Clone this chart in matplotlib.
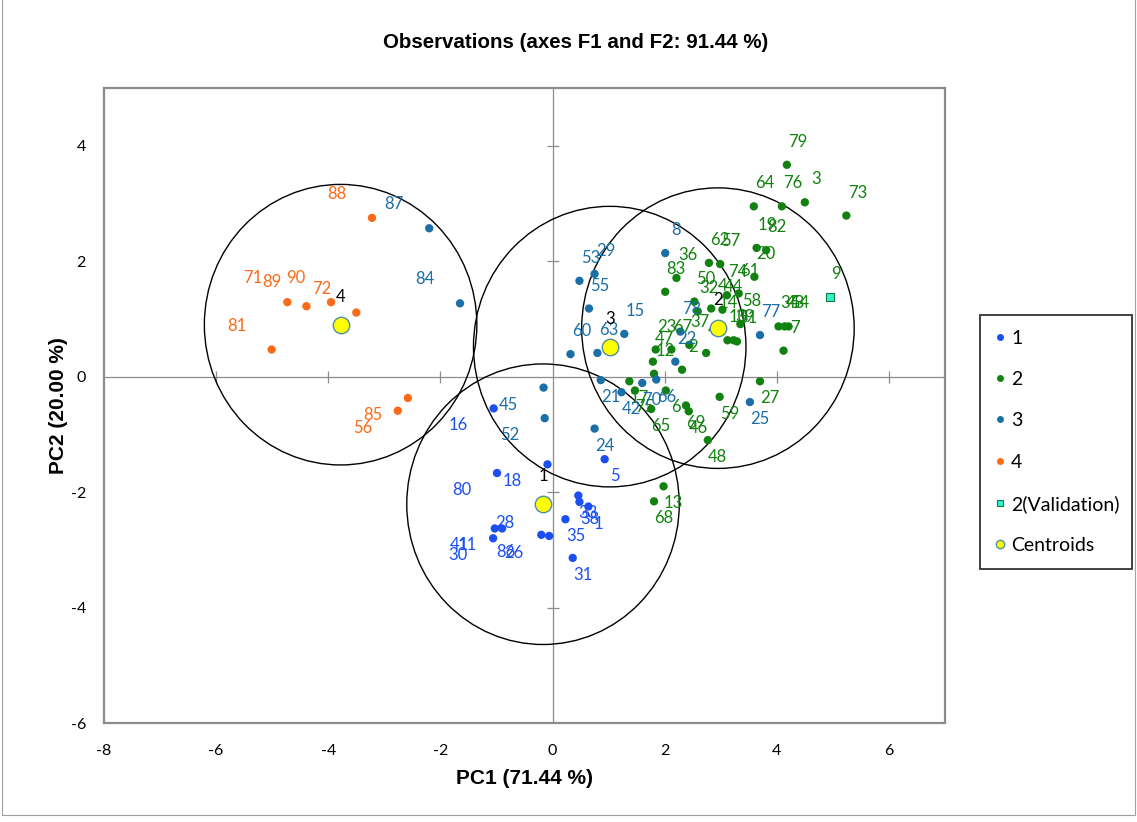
import matplotlib
matplotlib.use("Agg")
import numpy as np
import matplotlib.pyplot as plt
from matplotlib.patches import Circle, Rectangle
from matplotlib.lines import Line2D

plt.rcParams['font.family'] = ['Lato', 'DejaVu Sans']
plt.rcParams['axes.unicode_minus'] = False

# class 1 observations
c1_lab = [16, 80, 18, 5, 33, 38, 1, 35, 31, 86, 26, 28, 41, 11, 30]
c1_x = [-1.05, -0.99, -0.09, 0.93, 0.46, 0.48, 0.64, 0.23, 0.36, -0.20, -0.06, -0.23, -1.03, -0.90, -1.06]
c1_y = [-0.55, -1.67, -1.52, -1.43, -2.06, -2.17, -2.25, -2.47, -3.14, -2.74, -2.76, -2.24, -2.63, -2.63, -2.80]
c1_pos = ['ll', 'll', 'll', 'lr', 'lr', 'lr', 'lr', 'lr', 'lr', 'll', 'll', 'll', 'll', 'll', 'll']

# class 2 observations
c2_lab = [79, 64, 76, 3, 73, 19, 82, 20, 62, 57, 36, 83, 74, 61, 50, 32, 4, 44, 58, 34, 43, 54, 7,
          10, 39, 51, 14, 37, 49, 23, 67, 47, 12, 2, 17, 75, 6, 65, 69, 46, 59, 48, 27, 13, 68]
c2_x = [4.18, 3.59, 4.09, 4.50, 5.24, 3.64, 3.81, 3.60, 2.79, 2.99, 2.21, 2.01, 3.11, 3.32, 2.53, 2.59,
        2.83, 3.03, 3.35, 4.03, 4.14, 4.21, 4.12, 3.12, 3.23, 3.29, 2.94, 2.44, 2.74, 1.84, 2.12, 1.79,
        1.81, 2.31, 1.37, 1.47, 2.02, 1.76, 2.38, 2.43, 2.98, 2.77, 3.70, 1.98, 1.81]
c2_y = [3.67, 2.95, 2.95, 3.02, 2.79, 2.23, 2.19, 1.73, 1.97, 1.95, 1.71, 1.47, 1.41, 1.44, 1.30, 1.13,
        1.18, 1.16, 0.91, 0.87, 0.87, 0.87, 0.45, 0.63, 0.63, 0.61, 0.87, 0.55, 0.41, 0.47, 0.47, 0.26,
        0.05, 0.12, -0.08, -0.24, -0.24, -0.56, -0.50, -0.60, -0.35, -1.10, -0.08, -1.90, -2.16]
c2_pos = ['ur'] * 34 + ['lr'] * 11

# class 3 observations
c3_lab = [87, 84, 45, 52, 24, 8, 29, 53, 55, 60, 63, 15, 22, 78, 21, 42, 70, 66, 77, 25]
c3_x = [-2.20, -1.65, -0.16, -0.14, 0.75, 2.01, 0.75, 0.48, 0.65, 0.32, 0.80, 1.28, 2.19, 2.28,
        0.86, 1.23, 1.60, 1.85, 3.70, 3.52]
c3_y = [2.57, 1.27, -0.19, -0.72, -0.90, 2.14, 1.78, 1.66, 1.18, 0.39, 0.41, 0.74, 0.26, 0.78,
        -0.06, -0.27, -0.11, -0.05, 0.72, -0.44]
c3_pos = ['ul', 'ul', 'll', 'll', 'lr', 'ur', 'ur', 'ur', 'ur', 'ur', 'ur', 'ur', 'ur', 'ur',
          'lr', 'lr', 'lr', 'lr', 'ur', 'lr']

# class 4 observations
c4_lab = [88, 71, 89, 90, 72, 81, 85, 56]
c4_x = [-3.22, -4.73, -4.39, -3.95, -3.50, -5.01, -2.58, -2.76]
c4_y = [2.75, 1.29, 1.22, 1.29, 1.11, 0.47, -0.37, -0.59]
c4_pos = ['ul', 'ul', 'ul', 'ul', 'ul', 'ul', 'll', 'll']

# validation sample
val_lab = [9]
val_x = [4.94]
val_y = [1.38]

# class centroids
cen_lab = [1, 2, 3, 4]
cen_x = [-0.17, 2.95, 1.02, -3.78]
cen_y = [-2.21, 0.84, 0.52, 0.90]
radius = 2.43

offsets = {'ur': (11, 23), 'lr': (10, -17), 'll': (-35, -17), 'ul': (-35, 24)}

blue = '#1b4ff2'
green = '#11820f'
teal = '#1a6fa6'
orange = '#fb6a17'
grey = '#8c8c8c'

fig = plt.figure(figsize=(11.37, 8.22), dpi=100)
ax = fig.add_axes([104 / 1137, 1 - 723 / 822, 841 / 1137, 635 / 822])

ax.axhline(0, color=grey, lw=0.9, zorder=1)
ax.axvline(0, color=grey, lw=0.9, zorder=1)
xt = np.array([-6, -4, -2, 2, 4, 6])
yt = np.array([-4, -2, 2, 4])
ax.plot(xt, np.zeros_like(xt), ls='none', marker='|', ms=8, mew=0.9, color=grey, zorder=1)
ax.plot(np.zeros_like(yt), yt, ls='none', marker='_', ms=8, mew=0.9, color=grey, zorder=1)

for cx, cy in zip(cen_x, cen_y):
    ax.add_patch(Circle((cx, cy), radius, fill=False, ec='black', lw=1.0, zorder=2))

groups = [
    (c1_lab, c1_x, c1_y, c1_pos, blue),
    (c2_lab, c2_x, c2_y, c2_pos, green),
    (c3_lab, c3_x, c3_y, c3_pos, teal),
    (c4_lab, c4_x, c4_y, c4_pos, orange),
]
for lab, xs, ys, pos, col in groups:
    ax.scatter(xs, ys, s=36, color=col, edgecolors='none', zorder=3)
    for l, x, y, p in zip(lab, xs, ys, pos):
        ax.annotate(str(l), (x, y), xytext=offsets[p], textcoords='offset pixels',
                    ha='center', va='center', color=col, fontsize=12, zorder=4)

ax.scatter(val_x, val_y, s=40, marker='s', color='#2ef5d0', edgecolors='#127a3a', linewidths=0.8, zorder=3)
for l, x, y in zip(val_lab, val_x, val_y):
    ax.annotate(str(l), (x, y), xytext=(6, 23), textcoords='offset pixels',
                ha='center', va='center', color=green, fontsize=12, zorder=4)

ax.scatter(cen_x, cen_y, s=140, color='#ffff00', edgecolors='#4f8fa6', linewidths=1.0, zorder=5)
for l, x, y in zip(cen_lab, cen_x, cen_y):
    ax.annotate(str(l), (x, y), xytext=(0, 28), textcoords='offset pixels',
                ha='center', va='center', color='black', fontsize=12, zorder=4)

ax.set_xlim(-8, 7)
ax.set_ylim(-6, 5)
ax.set_xticks(np.arange(-8, 7, 2))
ax.set_yticks(np.arange(-6, 5, 2))
ax.tick_params(length=0, labelsize=11.5)
ax.tick_params(axis='x', pad=15)
ax.tick_params(axis='y', pad=13)
for s in ax.spines.values():
    s.set_color(grey)
    s.set_linewidth(1.6)

ax.set_xlabel('PC1 (71.44 %)', fontsize=15, fontweight='bold', family='Liberation Sans', labelpad=8)
ax.set_ylabel('PC2 (20.00 %)', fontsize=15, fontweight='bold', family='Liberation Sans', labelpad=2)
fig.text(576 / 1137, 1 - 43 / 822, 'Observations (axes F1 and F2: 91.44 %)', ha='center', va='center',
         fontsize=14.8, fontweight='bold', family='Liberation Sans')

handles = [
    Line2D([], [], ls='none', marker='o', ms=5, color=blue, mec='none'),
    Line2D([], [], ls='none', marker='o', ms=5, color=green, mec='none'),
    Line2D([], [], ls='none', marker='o', ms=5, color=teal, mec='none'),
    Line2D([], [], ls='none', marker='o', ms=5, color=orange, mec='none'),
    Line2D([], [], ls='none', marker='s', ms=5, color='#2ef5d0', mec='#127a3a', mew=0.8),
    Line2D([], [], ls='none', marker='o', ms=6, color='#ffff00', mec='#4f8fa6', mew=1.0),
]
leg = fig.legend(handles, ['1', '2', '3', '4', '2(Validation)', 'Centroids'],
                 loc='upper left', bbox_to_anchor=(980 / 1137, 1 - 315 / 822, 152 / 1137, 0),
                 mode='expand', fontsize=14, frameon=True, fancybox=False, edgecolor='black',
                 handlelength=0.6, handletextpad=0.25, labelspacing=1.25, borderpad=0.75,
                 borderaxespad=0)
leg.get_frame().set_linewidth(1.3)

# thin outer border of the chart area
fig.patches.append(Rectangle((1.5 / 1137, 1 - 815 / 822), 1133 / 1137, 1.0, transform=fig.transFigure,
                             fill=False, ec='#a0a0a0', lw=0.8))

fig.savefig('out.png', dpi=100)
